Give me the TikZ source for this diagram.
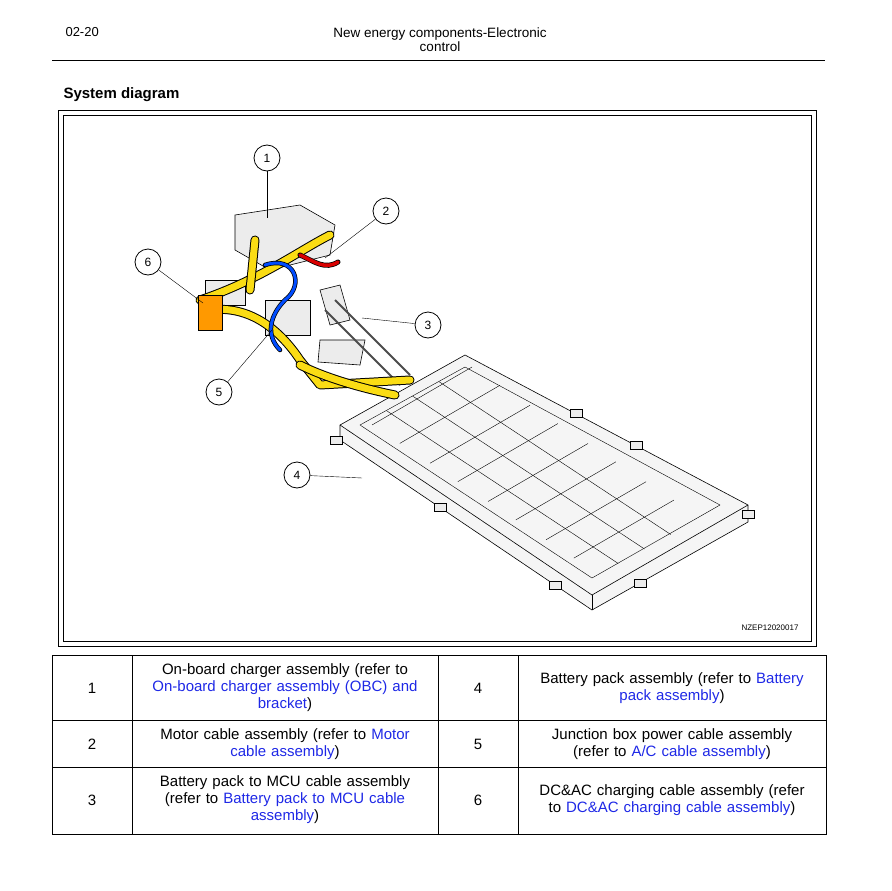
\documentclass[tikz,border=0pt]{standalone}
\usepackage{fontspec}
\setmainfont{Liberation Sans}
\usetikzlibrary{positioning,calc}
\definecolor{linkblue}{RGB}{30,40,230}
\definecolor{cableyel}{RGB}{250,220,20}
\tikzset{
    callout/.style={circle, draw, thick, fill=white, minimum size=26pt, inner sep=0pt, font=\fontsize{12}{12}\selectfont},
    leader/.style={thin},
    cell/.style={align=center, text width=#1, font=\fontsize{15}{17}\selectfont},
    part/.style={draw, fill=gray!15, line width=0.6pt},
    yel/.style={draw=black, line width=9pt, line cap=round, line join=round},
    yelin/.style={draw=cableyel, line width=7pt, line cap=round, line join=round},
}
\newcommand{\lnk}[1]{\textcolor{linkblue}{#1}}
\begin{document}
\begin{tikzpicture}[x=1pt, y=-1pt]
    \useasboundingbox (0,0) rectangle (891,891);
    % header
    \node[anchor=west, font=\fontsize{13}{14}\selectfont] (page) at (62,32) {02-20};
    \node[align=center, font=\fontsize{13.5}{14}\selectfont] (title) at (440,40) {New energy components-Electronic\\control};
    \draw (52,60) -- (825,60);
    \node[anchor=west, font=\bfseries\fontsize{15}{16}\selectfont] (sysd) at (60,95) {System diagram};
    % frame
    \draw (58,110) rectangle (816,646);
    \draw[thick] (63,115) rectangle (811,641);
    \node[anchor=east, font=\fontsize{8}{9}\selectfont] (code) at (802,628) {NZEP12020017};

    % battery pack
    \draw[part, fill=gray!8] (340,425) -- (465,355) -- (748,505) -- (748,522) -- (592,610) -- (340,440) -- cycle;
    \draw[line width=0.6pt] (340,425) -- (592,595) -- (748,505);
    \draw (592,595) -- (592,610);
    \draw[thin] (360,425) -- (465,367) -- (720,505) -- (592,578) -- cycle;
    \foreach \i in {0,1,2,3} {
        \draw[thin] ($(372,425)!\i/4!(604,578)$) -- ++(100,-58);
        \draw[thin] ($(372,425)!\i/4+0.12!(604,578)$) -- ++(100,-58);
    }
    \foreach \i in {1,2,3} {
        \draw[thin] ($(360,425)!\i/4!(465,367)$) -- ++(232,153);
    }
    \foreach \p in {(330,436),(434,503),(549,581),(634,579),(742,510),(570,409),(630,441)}
        \draw[part] \p rectangle ++(12,8);

    % cable assembly
    \draw[part] (235,215) -- (300,205) -- (335,225) -- (330,255) -- (270,270) -- (235,250) -- cycle;
    \draw[part] (205,280) rectangle (245,305);
    \draw[part] (265,300) rectangle (310,335);
    \draw[part] (320,340) -- (365,340) -- (360,365) -- (318,362) -- cycle;
    \draw[part] (320,290) -- (340,285) -- (350,320) -- (330,325) -- cycle;
    \draw[gray!60!black, line width=2pt] (335,300) -- (410,375);
    \draw[gray!60!black, line width=2pt] (325,310) -- (400,385);
    \draw[yel] (200,300) .. controls (260,280) and (300,250) .. (330,235);
    \draw[yelin] (200,300) .. controls (260,280) and (300,250) .. (330,235);
    \draw[yel] (210,310) .. controls (250,305) and (280,330) .. (300,360) -- (320,385) -- (410,380);
    \draw[yelin] (210,310) .. controls (250,305) and (280,330) .. (300,360) -- (320,385) -- (410,380);
    \draw[yel] (300,365) .. controls (330,380) and (370,390) .. (395,395);
    \draw[yelin] (300,365) .. controls (330,380) and (370,390) .. (395,395);
    \draw[yel] (255,240) -- (250,290);
    \draw[yelin] (255,240) -- (250,290);
    \draw[draw=black, fill=orange!80!yellow] (198,295) rectangle (222,330);
    \draw[black, line width=5pt, line cap=round] (300,255) .. controls (315,262) and (325,270) .. (338,262);
    \draw[red!85!black, line width=3.5pt, line cap=round] (300,255) .. controls (315,262) and (325,270) .. (338,262);
    \draw[black, line width=4.5pt, line cap=round] (265,265) .. controls (295,255) and (305,285) .. (285,300) .. controls (270,315) and (265,335) .. (280,350);
    \draw[blue!70!cyan, line width=3pt, line cap=round] (265,265) .. controls (295,255) and (305,285) .. (285,300) .. controls (270,315) and (265,335) .. (280,350);

    % callouts
    \node[callout] (c1) at (267,158) {1};
    \node[callout] (c2) at (386,211) {2};
    \node[callout] (c3) at (428,325) {3};
    \node[callout] (c4) at (297,475) {4};
    \node[callout] (c5) at (219,392) {5};
    \node[callout] (c6) at (148,262) {6};
    \coordinate (t1) at (267,218);
    \coordinate (t2) at (325,258);
    \coordinate (t3) at (362,318);
    \coordinate (t4) at (362,478);
    \coordinate (t5) at (272,330);
    \coordinate (t6) at (203,303);
    \foreach \i in {1,...,6} \draw[leader] (c\i) -- (t\i);

    % table
    \draw (52,655) rectangle (826,834);
    \draw (52,720) -- (826,720);
    \draw (52,767) -- (826,767);
    \foreach \x in {132,438,518} \draw (\x,655) -- (\x,834);
    \node[cell=60pt] (n1) at (92,688) {1};
    \node[cell=60pt] (n2) at (92,744) {2};
    \node[cell=60pt] (n3) at (92,800) {3};
    \node[cell=60pt] (n4) at (478,688) {4};
    \node[cell=60pt] (n5) at (478,744) {5};
    \node[cell=60pt] (n6) at (478,800) {6};
    \node[cell=300pt] (d1) at (285,688) {On-board charger assembly (refer to\\\lnk{On-board charger assembly (OBC) and}\\\lnk{bracket})};
    \node[cell=300pt] (d2) at (285,744) {Motor cable assembly (refer to \lnk{Motor}\\\lnk{cable assembly})};
    \node[cell=300pt] (d3) at (285,800) {Battery pack to MCU cable assembly\\(refer to \lnk{Battery pack to MCU cable}\\\lnk{assembly})};
    \node[cell=300pt] (d4) at (672,688) {Battery pack assembly (refer to \lnk{Battery}\\\lnk{pack assembly})};
    \node[cell=300pt] (d5) at (672,744) {Junction box power cable assembly\\(refer to \lnk{A/C cable assembly})};
    \node[cell=300pt] (d6) at (672,800) {DC\&AC charging cable assembly (refer\\to \lnk{DC\&AC charging cable assembly})};
\end{tikzpicture}
\end{document}
